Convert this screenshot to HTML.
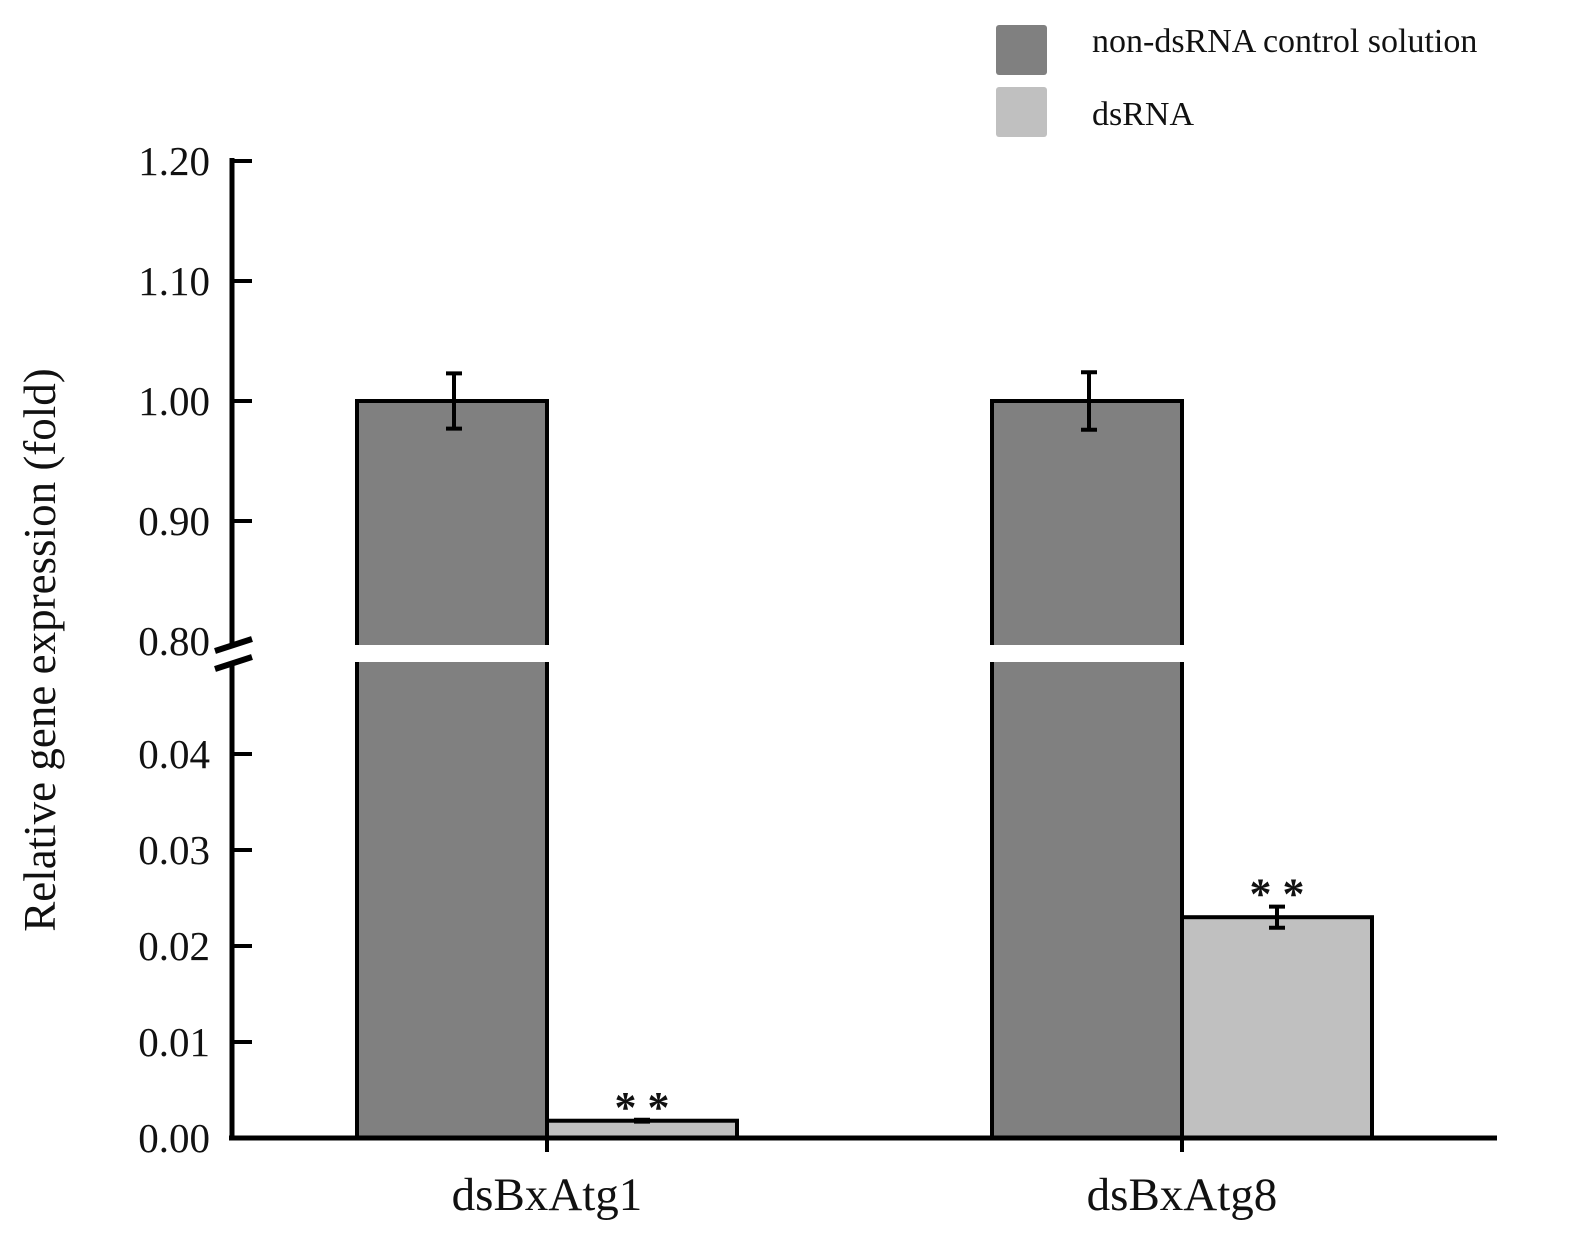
<!DOCTYPE html>
<html><head><meta charset="utf-8"><style>
html,body{margin:0;padding:0;background:#fff;}
svg{display:block;font-family:"Liberation Serif",serif;}
</style></head><body>
<svg id="chart" width="1581" height="1244" viewBox="0 0 1581 1244">
<g id="legend">
 <rect x="996" y="25" width="51" height="50" rx="3" fill="#808080"/>
 <text x="1092" y="52" font-size="34" fill="#111">non-dsRNA control solution</text>
 <rect x="996" y="87" width="51" height="50" rx="3" fill="#c0c0c0"/>
 <text x="1092" y="125" font-size="34" fill="#111">dsRNA</text>
</g>
<text transform="translate(55,650) rotate(-90)" text-anchor="middle" font-size="45" fill="#111">Relative gene expression (fold)</text>
<g id="marks"></g>
</svg>
<script>
const categories = ["dsBxAtg1", "dsBxAtg8"];
const controlValues = [1.0, 1.0];
const controlErrors = [0.023, 0.024];
const dsrnaValues = [0.0018, 0.023];
const dsrnaErrors = [0.0001, 0.0011];
const significance = ["* *", "* *"];
const upperTicks = ["0.80","0.90","1.00","1.10","1.20"];
const lowerTicks = ["0.00","0.01","0.02","0.03","0.04"];

const NS="http://www.w3.org/2000/svg";
const g=document.getElementById('marks');
function mk(tag,attrs,parent){const e=document.createElementNS(NS,tag);for(const k in attrs)e.setAttribute(k,attrs[k]);(parent||g).appendChild(e);return e;}
const axisX=232, baseY=1138, breakLow=0.05, breakHighY=645, breakLowY=662;
function yLow(v){return baseY-(v/0.01)*96;}
function yUp(v){return 641-((v-0.8)/0.1)*120;}
function y(v){return v<=breakLow?yLow(v):yUp(v);}
const groupCenter=[547,1182], barW=190;
function xCenter(i){return groupCenter[i];}

function drawBar(x0,v,fill,name){
  if(v<=breakLow){
    const r=mk('rect',{x:x0,y:y(v),width:barW,height:baseY-y(v),fill:fill,stroke:'#000','stroke-width':4});
    
    
  } else {
    const top=y(v);
    const r1=mk('rect',{x:x0,y:top,width:barW,height:breakHighY-top,fill:fill});
    
    
    mk('path',{d:`M${x0},${breakHighY}V${top}H${x0+barW}V${breakHighY}`,fill:'none',stroke:'#000','stroke-width':4});
    const r2=mk('rect',{x:x0,y:breakLowY,width:barW,height:baseY-breakLowY,fill:fill});
    
    
    mk('path',{d:`M${x0},${breakLowY}V${baseY}M${x0+barW},${breakLowY}V${baseY}`,fill:'none',stroke:'#000','stroke-width':4});
  }
}
function drawErr(cx,v,e,name){
  const p=mk('path',{d:`M${cx},${y(v+e)}V${y(v-e)}M${cx-8},${y(v+e)}H${cx+8}M${cx-8},${y(v-e)}H${cx+8}`,stroke:'#000','stroke-width':4,fill:'none'});
  
  
}
categories.forEach((c,i)=>{
  const cx=xCenter(i);
  drawBar(cx-barW,controlValues[i],'#808080','bar-control-'+c);
  drawBar(cx,dsrnaValues[i],'#c0c0c0','bar-dsrna-'+c);
  drawErr(cx-barW/2+2,controlValues[i],controlErrors[i],'error-control-'+c);
  drawErr(cx+barW/2,dsrnaValues[i],dsrnaErrors[i],'error-dsrna-'+c);
  const s=mk('text',{x:cx+barW/2,y:y(dsrnaValues[i]+dsrnaErrors[i])+2,'text-anchor':'middle','font-size':44,'font-weight':'bold',fill:'#111'});
  s.textContent=significance[i];
  
  
  const t=mk('text',{x:cx,y:1210,'text-anchor':'middle','font-size':47,fill:'#111'});
  t.textContent=c;
  
  
  mk('line',{x1:cx,y1:baseY,x2:cx,y2:baseY+14,stroke:'#000','stroke-width':4});
});
const ya=mk('path',{d:`M${axisX},158V${breakHighY}M${axisX},${breakLowY}V${baseY}`,stroke:'#000','stroke-width':5,fill:'none'});


const xa=mk('line',{x1:axisX-3,y1:baseY,x2:1497,y2:baseY,stroke:'#000','stroke-width':5});


const br=mk('path',{d:`M215,651L252,639M215,669L252,657`,stroke:'#000','stroke-width':6,fill:'none'});


upperTicks.forEach(t=>{
  const yy=yUp(parseFloat(t));
  if(parseFloat(t)>0.8) mk('line',{x1:axisX,y1:yy,x2:axisX+20,y2:yy,stroke:'#000','stroke-width':4});
  const tx=mk('text',{x:210,y:yy+14,'text-anchor':'end','font-size':41,fill:'#111'});
  tx.textContent=t;
  
  
});
lowerTicks.forEach(t=>{
  const yy=yLow(parseFloat(t));
  if(parseFloat(t)>0) mk('line',{x1:axisX,y1:yy,x2:axisX+20,y2:yy,stroke:'#000','stroke-width':4});
  const tx=mk('text',{x:210,y:yy+14,'text-anchor':'end','font-size':41,fill:'#111'});
  tx.textContent=t;
  
  
});
</script>
</body></html>
